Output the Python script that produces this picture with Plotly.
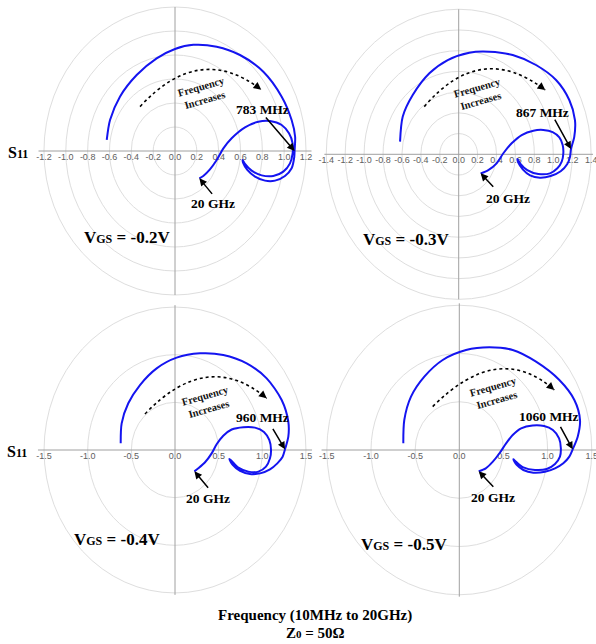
import plotly.graph_objects as go

vgs_labels = ["-0.2V", "-0.3V", "-0.4V", "-0.5V"]
marker_freqs = ["783 MHz", "867 MHz", "960 MHz", "1060 MHz"]
end_freq = "20 GHz"

p1_re = [-0.625, -0.595, -0.504, -0.351, -0.168, 0.0, 0.168, 0.382, 0.595, 0.809, 0.977, 1.068, 1.10, 1.095,
         1.092, 1.068, 1.007, 0.916, 0.824, 0.733, 0.662, 0.626, 0.62,
         0.641, 0.702, 0.794, 0.9, 0.992, 1.053, 1.077,
         1.077, 1.044, 0.977, 0.87, 0.763, 0.641, 0.519, 0.443, 0.382, 0.32, 0.259, 0.223]
p1_im = [0.092, 0.258, 0.453, 0.633, 0.772, 0.85, 0.885, 0.869, 0.8, 0.661, 0.453, 0.258, 0.119, 0.0,
         -0.05, -0.144, -0.208, -0.247, -0.247, -0.214, -0.158, -0.103, -0.075,
         -0.108, -0.164, -0.203, -0.208, -0.172, -0.103, -0.019,
         0.064, 0.147, 0.217, 0.25, 0.244, 0.197, 0.106, 0.022, -0.075, -0.153, -0.208, -0.228]

p2_re = [-0.62, -0.592, -0.486, -0.31, -0.116, 0.112, 0.324, 0.571, 0.817, 1.029, 1.169, 1.229, 1.222, 1.187,
         1.177, 1.148, 1.078, 0.972, 0.859, 0.754, 0.677, 0.63, 0.62,
         0.648, 0.725, 0.842, 0.965, 1.043, 1.089,
         1.106, 1.099, 1.064, 0.993, 0.894, 0.789, 0.666, 0.56, 0.472, 0.401, 0.313, 0.232]
p2_im = [0.122, 0.363, 0.572, 0.782, 0.91, 0.981, 0.99, 0.958, 0.862, 0.717, 0.524, 0.331, 0.17, 0.051,
         -0.023, -0.094, -0.164, -0.21, -0.226, -0.203, -0.145, -0.081, -0.045,
         -0.087, -0.152, -0.19, -0.184, -0.135, -0.071,
         0.01, 0.09, 0.164, 0.215, 0.235, 0.228, 0.186, 0.106, 0.01, -0.087, -0.152, -0.184]

p3_re = [-0.622, -0.611, -0.535, -0.401, -0.21, 0.019, 0.286, 0.553, 0.821, 1.05, 1.222, 1.298, 1.298, 1.26,
         1.233, 1.172, 1.088, 0.974, 0.859, 0.745, 0.661, 0.622,
         0.649, 0.726, 0.84, 0.955, 1.042, 1.088,
         1.1, 1.08, 1.019, 0.916, 0.783, 0.649, 0.553, 0.477, 0.42, 0.344, 0.267, 0.222]
p3_im = [0.07, 0.28, 0.49, 0.682, 0.857, 0.969, 1.014, 0.997, 0.909, 0.752, 0.525, 0.297, 0.14, 0.007,
         -0.07, -0.14, -0.203, -0.245, -0.252, -0.22, -0.157, -0.094,
         -0.115, -0.185, -0.227, -0.227, -0.175, -0.087,
         0.0, 0.105, 0.19, 0.235, 0.24, 0.215, 0.15, 0.06, -0.035, -0.129, -0.192, -0.224]

p4_re = [-0.634, -0.623, -0.547, -0.396, -0.188, 0.076, 0.34, 0.605, 0.869, 1.133, 1.303, 1.367, 1.341, 1.284,
         1.246, 1.178, 1.084, 0.971, 0.838, 0.725, 0.65, 0.612,
         0.642, 0.725, 0.857, 0.99, 1.084, 1.14,
         1.15, 1.13, 1.06, 0.96, 0.83, 0.7, 0.605, 0.53, 0.455, 0.38, 0.3, 0.22]
p4_im = [0.069, 0.311, 0.553, 0.76, 0.933, 1.036, 1.064, 1.036, 0.915, 0.725, 0.518, 0.311, 0.138, 0.007,
         -0.069, -0.138, -0.19, -0.225, -0.235, -0.207, -0.155, -0.096,
         -0.121, -0.18, -0.207, -0.197, -0.145, -0.069,
         0.018, 0.121, 0.207, 0.249, 0.255, 0.225, 0.155, 0.069, -0.034, -0.121, -0.19, -0.22]

marker_index = [13, 13, 13, 13]

ticks_top_left = ["-1.2", "-1.0", "-0.8", "-0.6", "-0.4", "-0.2", "0.0", "0.2", "0.4", "0.6", "0.8", "1.0", "1.2"]
ticks_top_right = ["-1.4", "-1.2", "-1.0", "-0.8", "-0.6", "-0.4", "-0.2", "0.0", "0.2", "0.4", "0.6", "0.8",
                   "1.0", "1.2", "1.4"]
ticks_bottom = ["-1.5", "-1.0", "-0.5", "0.0", "0.5", "1.0", "1.5"]

rings_top_left = [0.2, 0.4, 0.6, 0.8, 1.0, 1.2]
rings_top_right = [0.2, 0.4, 0.6, 0.8, 1.0, 1.2, 1.4]
rings_bottom = [0.5, 1.0, 1.5]

# ---------------- layout / styling ----------------
W, H = 596, 644
SERIF = "Liberation Serif, Times New Roman, serif"
SANS = "Liberation Sans, Arial, sans-serif"
BLUE = "#1414f0"

panels = [
    dict(re=p1_re, im=p1_im, ticks=ticks_top_left, rings=rings_top_left, cx=175.0, cy=151.0, sx=109.2, sy=120.0,
         hext=1.25, vext=1.2,
         arc=[(-0.32, 0.37), (0.23, 0.675), (0.79, 0.51)],
         freq_txt=(203, 93), mk_txt=(262, 110), mk_off=(-30, -35), end_txt=(213, 203), end_off=(14, 17),
         vgs_txt=(127, 238)),
    dict(re=p2_re, im=p2_im, ticks=ticks_top_right, rings=rings_top_right, cx=458.7, cy=154.3, sx=94.6, sy=103.6,
         hext=1.42, vext=1.4,
         arc=[(-0.364, 0.46), (0.254, 0.82), (0.915, 0.62)],
         freq_txt=(479, 94), mk_txt=(542, 112), mk_off=(-17, -31), end_txt=(508, 199), end_off=(14, 15),
         vgs_txt=(406, 239)),
    dict(re=p3_re, im=p3_im, ticks=ticks_bottom, rings=rings_bottom, cx=175.0, cy=450.0, sx=87.3, sy=95.3,
         hext=1.57, vext=1.52,
         arc=[(-0.344, 0.378), (0.363, 0.763), (1.05, 0.542)],
         freq_txt=(207, 402), mk_txt=(262, 417), mk_off=(-13, -22), end_txt=(208, 498), end_off=(15, 18),
         vgs_txt=(117, 539)),
    dict(re=p4_re, im=p4_im, ticks=ticks_bottom, rings=rings_bottom, cx=459.3, cy=450.0, sx=88.3, sy=96.5,
         hext=1.56, vext=1.52,
         arc=[(-0.301, 0.449), (0.416, 0.836), (1.076, 0.622)],
         freq_txt=(495, 393), mk_txt=(549, 416), mk_off=(-13, -24), end_txt=(493, 497), end_off=(16, 17),
         vgs_txt=(404, 544)),
]

fig = go.Figure()
shapes = []
annotations = []


def paper(px, py):
    return px / W, 1 - py / H


for k, p in enumerate(panels):
    n = k + 1
    xa = "x" if n == 1 else f"x{n}"
    ya = "y" if n == 1 else f"y{n}"
    xkey = "xaxis" if n == 1 else f"xaxis{n}"
    ykey = "yaxis" if n == 1 else f"yaxis{n}"
    cx, cy, sx, sy = p["cx"], p["cy"], p["sx"], p["sy"]
    fig.update_layout({
        xkey: dict(domain=[0, 1], range=[(0 - cx) / sx, (W - cx) / sx], visible=False, anchor=ya,
                   showgrid=False, zeroline=False, fixedrange=True),
        ykey: dict(domain=[0, 1], range=[(cy - H) / sy, cy / sy], visible=False, anchor=xa,
                   showgrid=False, zeroline=False, fixedrange=True),
    })

    # grid rings
    for r in p["rings"]:
        shapes.append(dict(type="circle", xref=xa, yref=ya, x0=-r, x1=r, y0=-r, y1=r,
                           line=dict(color="#dedede", width=1), layer="below"))
    # axes
    shapes.append(dict(type="line", xref=xa, yref=ya, x0=-p["hext"], x1=p["hext"], y0=0, y1=0,
                       line=dict(color="#a0a0a0", width=1), layer="below"))
    shapes.append(dict(type="line", xref=xa, yref=ya, x0=0, x1=0, y0=-p["vext"], y1=p["vext"],
                       line=dict(color="#a0a0a0", width=1), layer="below"))

    # tick labels
    fig.add_trace(go.Scatter(x=[float(t) for t in p["ticks"]], y=[-6.5 / sy] * len(p["ticks"]),
                             text=p["ticks"], mode="text", textposition="middle center",
                             textfont=dict(family=SANS, size=9, color="#606060"),
                             xaxis=xa, yaxis=ya, hoverinfo="skip", showlegend=False, cliponaxis=False))

    # S11 curve
    fig.add_trace(go.Scatter(x=p["re"], y=p["im"], mode="lines",
                             line=dict(color=BLUE, width=2, shape="spline", smoothing=0.8),
                             xaxis=xa, yaxis=ya, showlegend=False, hoverinfo="skip"))

    # dotted "frequency increases" arc
    (x0, y0), (xm, ym), (x2, y2) = p["arc"]
    qx, qy = 2 * xm - 0.5 * (x0 + x2), 2 * ym - 0.5 * (y0 + y2)
    shapes.append(dict(type="path", xref=xa, yref=ya,
                       path=f"M {x0},{y0} Q {qx},{qy} {x2},{y2}",
                       line=dict(color="black", width=1.6, dash="dot")))
    annotations.append(dict(x=x2, y=y2, xref=xa, yref=ya, ax=x2 - 0.12 * (x2 - qx), ay=y2 - 0.12 * (y2 - qy),
                            axref=xa, ayref=ya, text="", showarrow=True, arrowhead=2, arrowsize=1.1,
                            arrowwidth=1.4, arrowcolor="black"))

    # rotated label
    fx, fy = paper(*p["freq_txt"])
    annotations.append(dict(x=fx, y=fy, xref="paper", yref="paper", text="<b>Frequency<br>Increases</b>",
                            showarrow=False, textangle=-16, font=dict(family=SERIF, size=10.5, color="#111"),
                            xanchor="center", yanchor="middle"))

    # marker frequency label + arrow
    mi = marker_index[k]
    mx, my = paper(*p["mk_txt"])
    annotations.append(dict(x=mx, y=my, xref="paper", yref="paper", text=f"<b>{marker_freqs[k]}</b>",
                            showarrow=False, font=dict(family=SERIF, size=13.5, color="black"),
                            xanchor="center", yanchor="middle"))
    annotations.append(dict(x=p["re"][mi], y=p["im"][mi], xref=xa, yref=ya, ax=p["mk_off"][0],
                            ay=p["mk_off"][1], text="", showarrow=True, arrowhead=2, arrowsize=1,
                            arrowwidth=1.5, arrowcolor="black"))

    # 20 GHz label + arrow
    ex, ey = paper(*p["end_txt"])
    annotations.append(dict(x=ex, y=ey, xref="paper", yref="paper", text=f"<b>{end_freq}</b>",
                            showarrow=False, font=dict(family=SERIF, size=13.5, color="black"),
                            xanchor="center", yanchor="middle"))
    annotations.append(dict(x=p["re"][-1], y=p["im"][-1], xref=xa, yref=ya, ax=p["end_off"][0],
                            ay=p["end_off"][1], text="", showarrow=True, arrowhead=2, arrowsize=1,
                            arrowwidth=1.5, arrowcolor="black"))

    # VGS label
    vx, vy = paper(*p["vgs_txt"])
    annotations.append(dict(x=vx, y=vy, xref="paper", yref="paper",
                            text=f"<b>V<span style='font-size:12px'>GS</span> = {vgs_labels[k]}</b>",
                            showarrow=False, font=dict(family=SERIF, size=17, color="black"),
                            xanchor="center", yanchor="middle"))

# S11 row labels
for (px, py) in [(18, 152), (17, 451)]:
    sx_, sy_ = paper(px, py)
    annotations.append(dict(x=sx_, y=sy_, xref="paper", yref="paper",
                            text="<b>S<span style='font-size:12px'>11</span></b>", showarrow=False,
                            font=dict(family=SERIF, size=16, color="black"), xanchor="center", yanchor="middle"))

# bottom caption
cx_, cy_ = paper(315, 615)
annotations.append(dict(x=cx_, y=cy_, xref="paper", yref="paper", text="<b>Frequency (10MHz to 20GHz)</b>",
                        showarrow=False, font=dict(family=SERIF, size=15, color="black"),
                        xanchor="center", yanchor="middle"))
cx_, cy_ = paper(315, 633)
annotations.append(dict(x=cx_, y=cy_, xref="paper", yref="paper",
                        text="<b>Z<span style='font-size:11px'>0</span> = 50Ω</b>",
                        showarrow=False, font=dict(family=SERIF, size=15, color="black"),
                        xanchor="center", yanchor="middle"))

fig.update_layout(width=W, height=H, margin=dict(l=0, r=0, t=0, b=0), autosize=False,
                  paper_bgcolor="white", plot_bgcolor="rgba(0,0,0,0)",
                  shapes=shapes, annotations=annotations, showlegend=False)

fig.write_html("out.html", config={"displayModeBar": False, "staticPlot": True},
               post_script="document.body.style.margin='0';document.body.style.overflow='hidden';")
